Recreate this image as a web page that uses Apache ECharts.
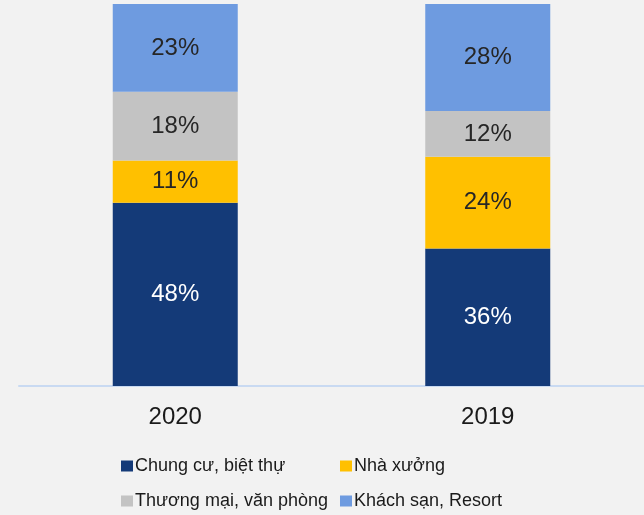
<!DOCTYPE html>
<html>
<head>
<meta charset="utf-8">
<script src="https://cdn.jsdelivr.net/npm/echarts@6/dist/echarts.min.js"></script>
<style>
  html, body { margin: 0; padding: 0; background: #f2f2f2; }
  #chart { width: 644px; height: 515px; }
</style>
</head>
<body>
<div id="chart"></div>
<script>
var years = ['2020', '2019']
var chungCu = [48, 36]
var nhaXuong = [11, 24]
var thuongMai = [18, 12]
var khachSan = [23, 28]

var names = ['Chung cư, biệt thự', 'Nhà xưởng', 'Thương mại, văn phòng', 'Khách sạn, Resort']
var colors = ['#143a78', '#ffc000', '#c3c3c3', '#6e9be0']

var chart = echarts.init(document.getElementById('chart'))

function makeSeries(name, data, color, labelColor) {
  return {
    name: name,
    type: 'bar',
    stack: 'total',
    barWidth: '40%',
    itemStyle: { color: color },
    label: {
      show: true,
      formatter: '{c}%',
      color: labelColor,
      fontSize: 24,
      fontFamily: 'Liberation Sans'
    },
    data: data
  }
}

var legendCommon = {
  orient: 'vertical',
  icon: 'rect',
  itemWidth: 12,
  itemHeight: 11,
  itemGap: 17,
  height: 62,
  textStyle: {
    fontSize: 18,
    color: '#1a1a1a',
    fontFamily: 'Liberation Sans',
    padding: [0, 0, 0, -3]
  }
}

chart.setOption({
  backgroundColor: '#f2f2f2',
  color: colors,
  animation: false,
  grid: {
    left: 19,
    right: 0,
    top: 4,
    bottom: 129
  },
  legend: [
    Object.assign({}, legendCommon, { data: [names[0], names[2]], left: 116, top: 452 }),
    Object.assign({}, legendCommon, { data: [names[1], names[3]], left: 335, top: 452 })
  ],
  xAxis: {
    type: 'category',
    data: years,
    axisLine: { show: true, lineStyle: { color: '#c9daf2', width: 2 } },
    axisTick: { show: false },
    axisLabel: {
      fontSize: 24,
      color: '#1a1a1a',
      margin: 19,
      fontFamily: 'Liberation Sans'
    }
  },
  yAxis: {
    type: 'value',
    min: 0,
    max: 100,
    show: false
  },
  series: [
    makeSeries(names[0], chungCu, colors[0], '#ffffff'),
    makeSeries(names[1], nhaXuong, colors[1], '#262626'),
    makeSeries(names[2], thuongMai, colors[2], '#262626'),
    makeSeries(names[3], khachSan, colors[3], '#262626')
  ]
})
</script>
</body>
</html>
